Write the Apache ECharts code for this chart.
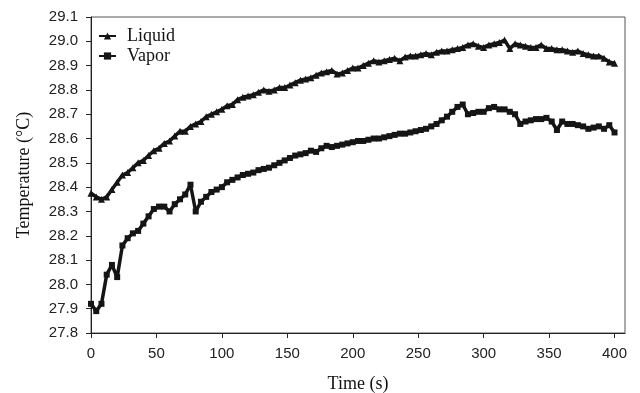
<!DOCTYPE html>
<html>
<head>
<meta charset="utf-8">
<script src="https://cdn.jsdelivr.net/npm/echarts@6/dist/echarts.min.js"></script>
<style>html,body{margin:0;padding:0;background:#fff;}#c{width:640px;height:393px;}</style>
</head>
<body>
<div id="c"></div>
<script>
var times = [0,4,8,12,16,20,24,28,32,36,40,44,48,52,56,60,64,68,72,76,80,84,88,92,96,100,104,108,112,116,120,124,128,132,136,140,144,148,152,156,160,164,168,172,176,180,184,188,192,196,200,204,208,212,216,220,224,228,232,236,240,244,248,252,256,260,264,268,272,276,280,284,288,292,296,300,304,308,312,316,320,324,328,332,336,340,344,348,352,356,360,364,368,372,376,380,384,388,392,396,400];
var liquid = [28.375,28.36,28.35,28.36,28.39,28.42,28.45,28.46,28.48,28.50,28.51,28.53,28.55,28.56,28.58,28.59,28.61,28.63,28.63,28.65,28.66,28.67,28.69,28.70,28.71,28.72,28.735,28.74,28.76,28.77,28.775,28.78,28.79,28.80,28.795,28.80,28.81,28.81,28.82,28.83,28.84,28.845,28.85,28.86,28.87,28.875,28.88,28.865,28.87,28.88,28.89,28.89,28.90,28.91,28.92,28.915,28.92,28.925,28.93,28.92,28.935,28.94,28.94,28.945,28.95,28.945,28.955,28.96,28.96,28.965,28.97,28.975,28.985,28.99,28.98,28.975,28.985,28.99,28.995,29.005,28.97,28.99,28.985,28.98,28.975,28.975,28.985,28.97,28.97,28.965,28.965,28.96,28.955,28.96,28.95,28.945,28.94,28.94,28.93,28.915,28.91];
var vapor = [27.92,27.89,27.92,28.04,28.08,28.03,28.16,28.19,28.21,28.22,28.25,28.28,28.31,28.32,28.32,28.30,28.33,28.35,28.37,28.41,28.30,28.34,28.36,28.38,28.39,28.40,28.42,28.43,28.44,28.45,28.455,28.46,28.47,28.475,28.48,28.49,28.50,28.51,28.52,28.53,28.535,28.54,28.55,28.545,28.56,28.57,28.565,28.57,28.575,28.58,28.585,28.59,28.59,28.595,28.60,28.60,28.605,28.61,28.615,28.62,28.62,28.625,28.63,28.635,28.64,28.65,28.66,28.675,28.69,28.71,28.73,28.74,28.70,28.705,28.71,28.71,28.725,28.73,28.72,28.72,28.71,28.70,28.66,28.67,28.675,28.68,28.68,28.685,28.67,28.635,28.67,28.66,28.66,28.655,28.65,28.64,28.645,28.65,28.64,28.655,28.625];
var seriesNames = ['Liquid','Vapor'];
var xTitle = 'Time (s)';
var yTitle = 'Temperature (\u00B0C)';

function pairs(vals){ return times.map(function(t,i){ return [t, vals[i]]; }); }

var chart = echarts.init(document.getElementById('c'), null, {renderer:'canvas'});
chart.setOption({
  animation:false,
  backgroundColor:'#fff',
  grid:{left:91,right:15,top:17,bottom:60,containLabel:false,outerBoundsMode:'none',show:true,borderColor:'#555',borderWidth:1,backgroundColor:'transparent'},
  legend:{
    orient:'vertical', left:93, top:22, itemWidth:17, itemHeight:9, itemGap:2,
    textStyle:{fontFamily:'Liberation Serif', fontSize:18, color:'#111', padding:[0,0,0,6]},
    data:seriesNames
  },
  xAxis:{
    type:'value', min:0, max:408, interval:50,
    name:xTitle, nameLocation:'middle', nameGap:42,
    nameTextStyle:{fontFamily:'Liberation Serif', fontSize:18, color:'#111'},
    axisLine:{show:true,lineStyle:{color:'#222',width:1}},
    axisTick:{show:true,inside:false,length:5,lineStyle:{color:'#222'}},
    axisLabel:{fontFamily:'Liberation Sans', fontSize:15, color:'#222', margin:13},
    splitLine:{show:false}
  },
  yAxis:{
    type:'value', min:27.8, max:29.1, interval:0.1,
    name:yTitle, nameLocation:'middle', nameGap:58,
    nameTextStyle:{fontFamily:'Liberation Serif', fontSize:18, color:'#111'},
    axisLine:{show:true,lineStyle:{color:'#222',width:1}},
    axisTick:{show:true,inside:false,length:5,lineStyle:{color:'#222'}},
    axisLabel:{fontFamily:'Liberation Sans', fontSize:15, color:'#222', margin:13,
      formatter:function(v){return v.toFixed(1);}},
    splitLine:{show:false}
  },
  series:[
    {name:seriesNames[0], type:'line', data:pairs(liquid), symbol:'triangle', symbolSize:7, showAllSymbol:true,
     itemStyle:{color:'#151515'}, lineStyle:{color:'#151515',width:3.5}},
    {name:seriesNames[1], type:'line', data:pairs(vapor), symbol:'rect', symbolSize:6, showAllSymbol:true,
     itemStyle:{color:'#151515'}, lineStyle:{color:'#151515',width:3.5}}
  ]
});
</script>
</body>
</html>
